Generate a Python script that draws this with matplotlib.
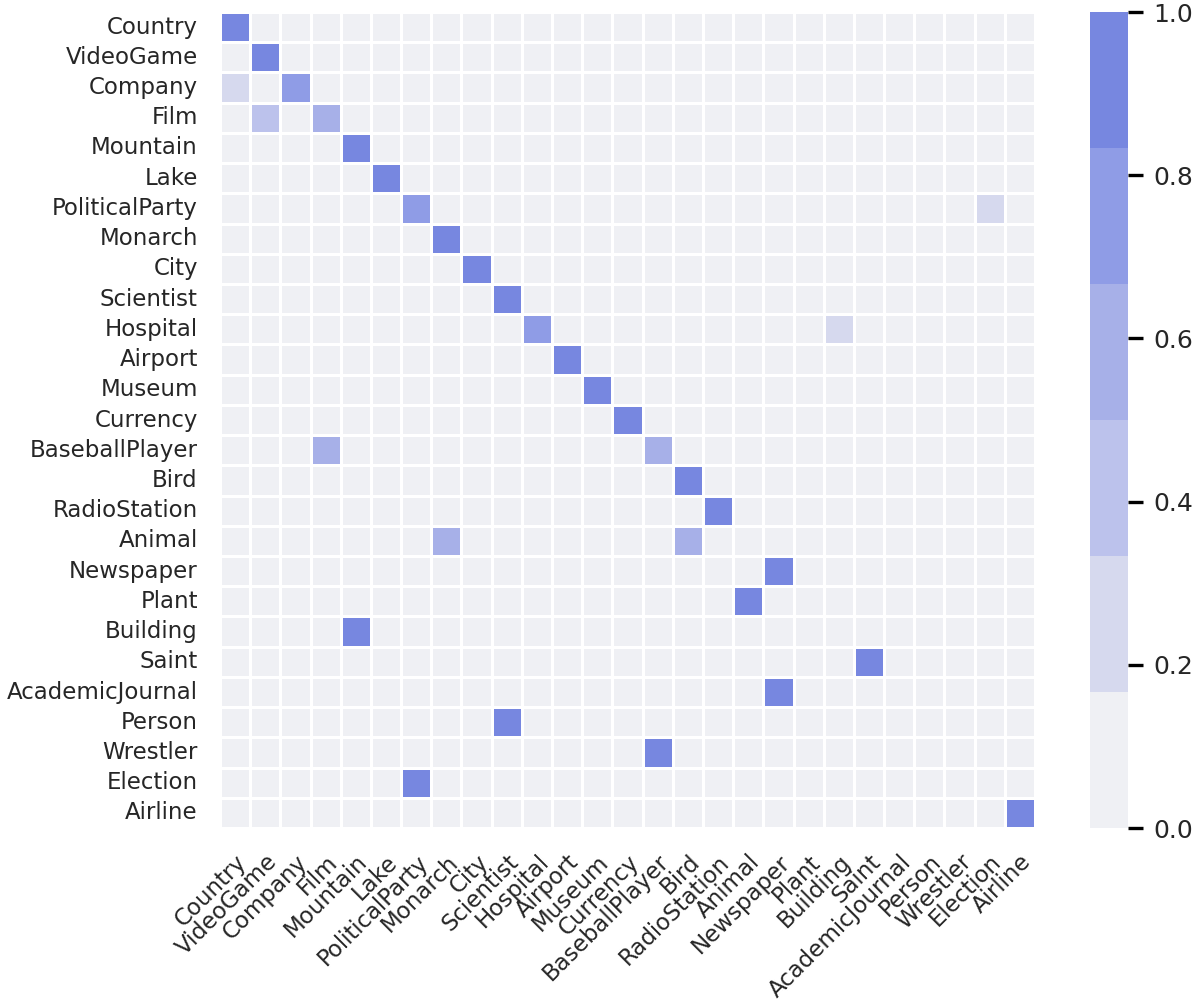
import numpy as np
import pandas as pd
import matplotlib
matplotlib.use("Agg")
import matplotlib.pyplot as plt
from matplotlib.colors import ListedColormap
import seaborn as sns

labels = ["Country", "VideoGame", "Company", "Film", "Mountain", "Lake",
          "PoliticalParty", "Monarch", "City", "Scientist", "Hospital",
          "Airport", "Museum", "Currency", "BaseballPlayer", "Bird",
          "RadioStation", "Animal", "Newspaper", "Plant", "Building", "Saint",
          "AcademicJournal", "Person", "Wrestler", "Election", "Airline"]

# non-zero cells: (true row, predicted column, share)
true_class = ["Country", "VideoGame", "Company", "Company", "Film", "Film",
              "Mountain", "Lake", "PoliticalParty", "PoliticalParty", "Monarch",
              "City", "Scientist", "Hospital", "Hospital", "Airport", "Museum",
              "Currency", "BaseballPlayer", "BaseballPlayer", "Bird",
              "RadioStation", "Animal", "Animal", "Newspaper", "Plant",
              "Building", "Saint", "AcademicJournal", "Person", "Wrestler",
              "Election", "Airline"]
pred_class = ["Country", "VideoGame", "Country", "Company", "VideoGame", "Film",
              "Mountain", "Lake", "PoliticalParty", "Election", "Monarch",
              "City", "Scientist", "Hospital", "Building", "Airport", "Museum",
              "Currency", "Film", "BaseballPlayer", "Bird",
              "RadioStation", "Monarch", "Bird", "Newspaper", "Animal",
              "Mountain", "Saint", "Newspaper", "Scientist", "BaseballPlayer",
              "PoliticalParty", "Airline"]
share = [1.0, 1.0, 0.25, 0.75, 0.4, 0.6,
         1.0, 1.0, 0.75, 0.25, 1.0,
         1.0, 1.0, 0.7, 0.3, 1.0, 1.0,
         1.0, 0.5, 0.5, 1.0,
         1.0, 0.5, 0.5, 1.0, 1.0,
         1.0, 1.0, 1.0, 1.0, 1.0,
         1.0, 1.0]

colors = ["#eff0f4", "#d6d9ee", "#bcc2ec", "#a7b0e8", "#8f9ce6", "#7787e0"]

cm = pd.DataFrame(0.0, index=labels, columns=labels)
for r, c, v in zip(true_class, pred_class, share):
    cm.loc[r, c] = v

sns.set_theme(style="white")
plt.rcParams['font.family'] = ['DejaVu Sans']

fig = plt.figure(figsize=(11.92, 10), dpi=100)
ax = fig.add_axes([220 / 1192, 0.172, 815 / 1192, 0.816])
cax = fig.add_axes([1090 / 1192, 0.172, 38 / 1192, 0.816])

sns.heatmap(cm, ax=ax, cbar_ax=cax, cmap=ListedColormap(colors),
            vmin=0, vmax=1, linewidths=0.9, linecolor="white", square=False)

ax.tick_params(length=0, labelsize=16.5, pad=16)
ax.set_xticklabels(labels, rotation=45, ha="right", rotation_mode="anchor")
ax.set_yticklabels(labels, rotation=0)
for t in ax.get_xticklabels() + ax.get_yticklabels():
    t.set_color("#262626")

cbar = ax.collections[0].colorbar
cbar.outline.set_visible(False)
cbar.set_ticks([0.0, 0.2, 0.4, 0.6, 0.8, 1.0])
cax.tick_params(length=11, width=2.4, labelsize=18, color="black", pad=7)

fig.savefig("out.png", dpi=100)
